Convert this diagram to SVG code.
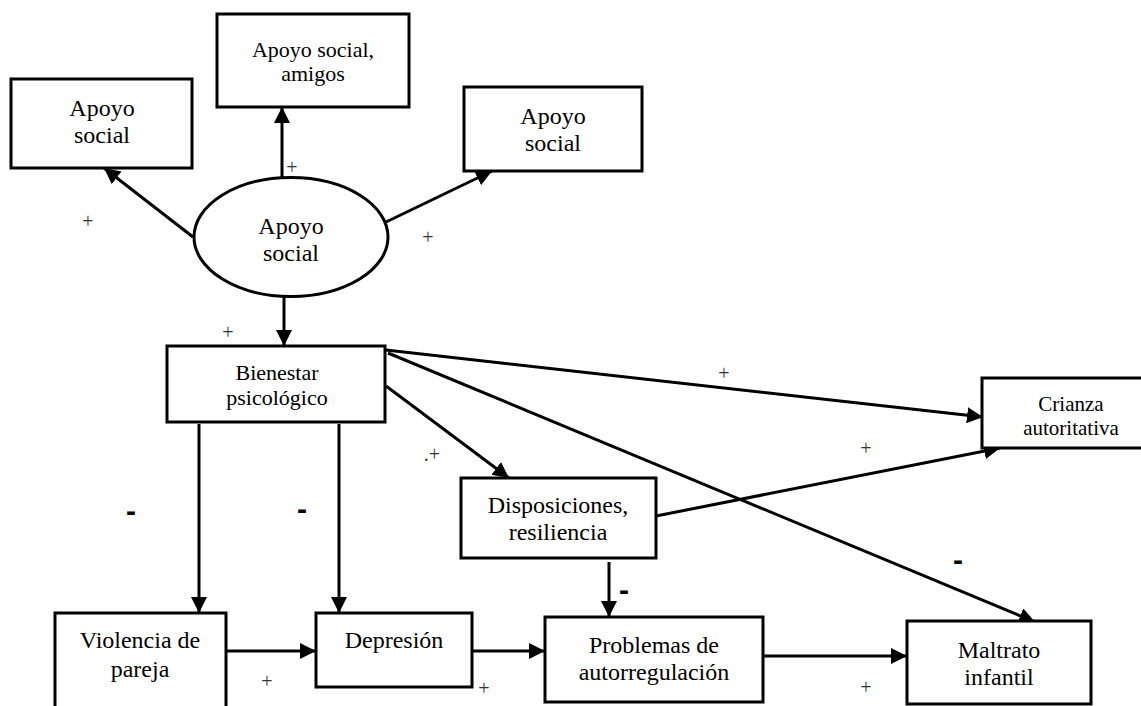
<svg xmlns="http://www.w3.org/2000/svg" width="1141" height="706" viewBox="0 0 1141 706" font-family="Liberation Serif, Times New Roman, serif">
<style>
.box{fill:#fff;stroke:#000;stroke-width:3}
.t{font-size:24px;fill:#000;text-anchor:middle}
.s22{font-size:22px}
.s21{font-size:21px}
.c{stroke:#000;stroke-width:3;fill:none;marker-end:url(#ah)}
.p{font-size:20px;fill:#333;text-anchor:middle}
.m{font-family:'Liberation Sans',Arial,sans-serif;font-size:30px;font-weight:bold;fill:#000;text-anchor:middle}
</style>
<defs>
<marker id="ah" markerUnits="userSpaceOnUse" markerWidth="18" markerHeight="18" refX="16" refY="8" orient="auto">
<path d="M0,0 L16,8 L0,16 Z" fill="#000"/>
</marker>
</defs>
<rect width="1141" height="706" fill="#fff"/>
<g id="connectors">
<line class="c" x1="282" y1="177" x2="282" y2="107"/>
<line class="c" x1="193" y1="237" x2="104" y2="168"/>
<line class="c" x1="386" y1="222" x2="492" y2="171"/>
<line class="c" x1="284" y1="297" x2="284" y2="346"/>
<line class="c" x1="386" y1="350" x2="983" y2="417"/>
<line class="c" x1="388" y1="353" x2="1035" y2="622"/>
<line class="c" x1="386" y1="386" x2="509" y2="478"/>
<line class="c" x1="199" y1="424" x2="199" y2="613"/>
<line class="c" x1="339" y1="424" x2="339" y2="613"/>
<line class="c" x1="656" y1="516" x2="1000" y2="448"/>
<line class="c" x1="609" y1="562" x2="609" y2="617"/>
<line class="c" x1="226" y1="651" x2="316" y2="651"/>
<line class="c" x1="472" y1="651" x2="545" y2="651"/>
<line class="c" x1="763" y1="656" x2="907" y2="656"/>
</g>
<g id="n-apoyo-left">
<rect class="box" x="11" y="79" width="181" height="89"/>
<text class="t" x="102" y="116">Apoyo</text>
<text class="t" x="102" y="143">social</text>
</g>
<g id="n-apoyo-amigos">
<rect class="box" x="217" y="14" width="192" height="93"/>
<text class="t s22" x="313" y="57">Apoyo social,</text>
<text class="t s22" x="313" y="81">amigos</text>
</g>
<g id="n-apoyo-right">
<rect class="box" x="464" y="87" width="178" height="84"/>
<text class="t" x="553" y="124">Apoyo</text>
<text class="t" x="553" y="151">social</text>
</g>
<g id="n-apoyo-ellipse">
<ellipse cx="291" cy="237" rx="97" ry="59.5" fill="#fff" stroke="#000" stroke-width="3"/>
<text class="t" x="291" y="234">Apoyo</text>
<text class="t" x="291" y="261">social</text>
</g>
<g id="n-bienestar">
<rect class="box" x="167" y="346" width="218" height="76"/>
<text class="t s22" x="277" y="380">Bienestar</text>
<text class="t s22" x="277" y="405">psicológico</text>
</g>
<g id="n-disposiciones">
<rect class="box" x="461" y="478" width="195" height="80"/>
<text class="t" x="558" y="513">Disposiciones,</text>
<text class="t" x="558" y="540">resiliencia</text>
</g>
<g id="n-crianza">
<rect class="box" x="982" y="378" width="180" height="70"/>
<text class="t s21" x="1071" y="411">Crianza</text>
<text class="t s21" x="1071" y="435">autoritativa</text>
</g>
<g id="n-violencia">
<rect class="box" x="55" y="613" width="171" height="120"/>
<text class="t" x="140" y="648">Violencia de</text>
<text class="t" x="140" y="677">pareja</text>
</g>
<g id="n-depresion">
<rect class="box" x="316" y="613" width="156" height="74"/>
<text class="t" x="394" y="648">Depresión</text>
</g>
<g id="n-problemas">
<rect class="box" x="545" y="617" width="218" height="85"/>
<text class="t" x="654" y="653">Problemas de</text>
<text class="t" x="654" y="680">autorregulación</text>
</g>
<g id="n-maltrato">
<rect class="box" x="907" y="621" width="184" height="83"/>
<text class="t" x="999" y="658">Maltrato</text>
<text class="t" x="999" y="685">infantil</text>
</g>
<g id="labels">
<text class="p" x="292" y="174">+</text>
<text class="p" x="88" y="228">+</text>
<text class="p" x="428" y="244">+</text>
<text class="p" x="228" y="339">+</text>
<text class="p" x="432" y="461">.+</text>
<text class="p" x="724" y="380">+</text>
<text class="p" x="866" y="455">+</text>
<text class="p" x="267" y="688">+</text>
<text class="p" x="484" y="695">+</text>
<text class="p" x="866" y="694">+</text>
<text class="m" x="131" y="521">-</text>
<text class="m" x="302" y="519">-</text>
<text class="m" x="624" y="600">-</text>
<text class="m" x="958" y="570">-</text>
</g>
</svg>
